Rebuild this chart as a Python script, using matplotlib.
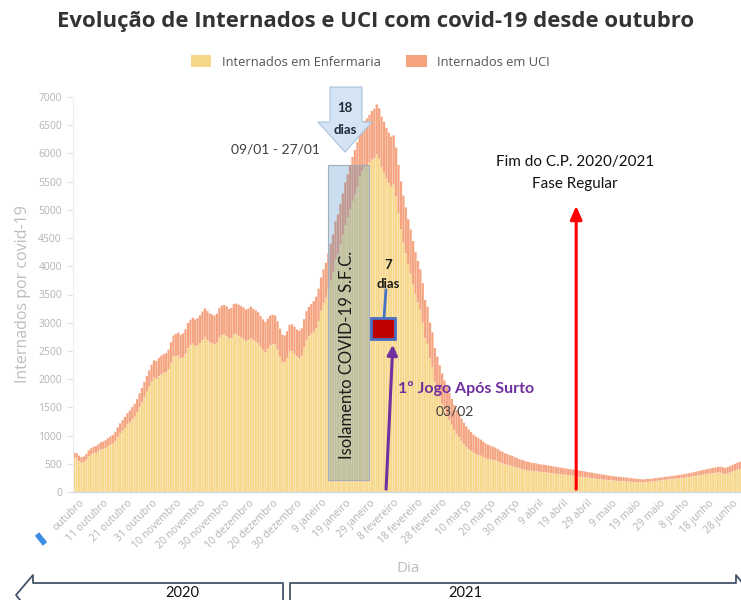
import numpy as np
import matplotlib
matplotlib.use("Agg")
import matplotlib.pyplot as plt
from matplotlib.patches import Polygon, Rectangle, Patch
from matplotlib.lines import Line2D

# --- dados (DGS, internados por dia, desde 29/09/2020) ---
internados = [
    700, 688, 645, 618, 632, 676, 738, 776, 802, 815,
    848, 884, 896, 918, 955, 988, 1012, 1066, 1147, 1218,
    1276, 1332, 1398, 1446, 1505, 1562, 1646, 1748, 1845, 1952,
    2056, 2158, 2255, 2336, 2322, 2378, 2415, 2445, 2462, 2525,
    2655, 2775, 2802, 2826, 2788, 2812, 2884, 2996, 3052, 3088,
    3058, 3082, 3134, 3198, 3255, 3208, 3168, 3146, 3128, 3162,
    3262, 3302, 3315, 3288, 3246, 3262, 3332, 3342, 3318, 3296,
    3268, 3236, 3252, 3284, 3248, 3222, 3188, 3118, 3062, 3018,
    3072, 3124, 3142, 3128, 3028, 2896, 2788, 2776, 2852, 2962,
    2972, 2928, 2882, 2858, 2902, 3064, 3204, 3282, 3334, 3384,
    3462, 3604, 3802, 3948, 4062, 4224, 4402, 4562, 4798, 4918,
    5104, 5292, 5484, 5628, 5782, 5938, 6062, 6202, 6398, 6504,
    6578, 6622, 6684, 6752, 6794, 6869, 6802, 6654, 6562, 6452,
    6368, 6298, 6322, 6104, 5798, 5504, 5252, 5046, 4834, 4652,
    4448, 4252, 4096, 3948, 3702, 3404, 3282, 3004, 2832, 2552,
    2402, 2248, 2102, 1978, 1862, 1758, 1652, 1542, 1452, 1378,
    1302, 1228, 1162, 1108, 1062, 1018, 982, 952, 928, 892,
    862, 838, 822, 802, 788, 762, 732, 712, 688, 672,
    654, 642, 618, 602, 582, 568, 556, 538, 532, 518,
    514, 506, 494, 490, 484, 478, 468, 462, 456, 446,
    440, 434, 424, 420, 412, 406, 398, 392, 386, 378,
    372, 366, 356, 350, 342, 336, 326, 320, 312, 306,
    298, 292, 286, 280, 276, 270, 266, 262, 256, 252,
    246, 242, 236, 232, 228, 224, 228, 232, 236, 240,
    246, 250, 256, 262, 268, 272, 278, 284, 290, 296,
    302, 310, 318, 326, 334, 342, 352, 362, 372, 382,
    392, 400, 410, 420, 430, 438, 446, 450, 438, 426,
    442, 460, 480, 500, 520, 537,
]
uci = [
    96, 97, 99, 101, 104, 108, 111, 115, 118, 122,
    125, 129, 134, 139, 144, 150, 157, 165, 172, 180,
    188, 196, 204, 212, 220, 228, 236, 245, 256, 268,
    280, 292, 300, 310, 318, 326, 330, 334, 340, 352,
    366, 380, 395, 410, 420, 430, 437, 445, 452, 462,
    472, 485, 495, 503, 505, 510, 514, 512, 515, 518,
    520, 522, 525, 528, 530, 535, 540, 548, 555, 560,
    562, 560, 558, 556, 555, 552, 550, 548, 545, 540,
    535, 530, 525, 515, 505, 495, 485, 478, 475, 476,
    478, 480, 482, 484, 490, 500, 510, 520, 530, 545,
    560, 575, 590, 605, 620, 638, 655, 667, 680, 702,
    720, 738, 755, 765, 772, 782, 790, 795, 802, 810,
    820, 835, 850, 865, 875, 890, 895, 900, 904, 900,
    895, 885, 875, 865, 855, 845, 830, 815, 800, 785,
    770, 752, 735, 718, 700, 682, 662, 640, 620, 600,
    580, 560, 540, 520, 500, 480, 462, 445, 428, 412,
    396, 380, 365, 350, 336, 322, 310, 298, 286, 275,
    264, 254, 245, 236, 228, 220, 212, 205, 198, 192,
    186, 180, 175, 170, 165, 161, 157, 153, 150, 147,
    144, 141, 138, 136, 134, 132, 130, 128, 126, 124,
    122, 120, 118, 116, 115, 114, 112, 111, 110, 108,
    106, 104, 102, 100, 98, 96, 94, 92, 90, 88,
    86, 84, 82, 80, 78, 76, 74, 72, 70, 68,
    66, 64, 62, 60, 58, 57, 56, 55, 54, 54,
    53, 53, 52, 52, 53, 54, 55, 56, 57, 58,
    60, 62, 64, 66, 68, 70, 72, 75, 78, 81,
    84, 87, 90, 93, 96, 99, 102, 105, 108, 111,
    114, 117, 120, 123, 126, 130,
]
dia_inicial = -2  # 29 setembro, relativo a 1 outubro
tick_labels = [
    "outubro", "11 outubro", "21 outubro", "31 outubro", "10 novembro",
    "20 novembro", "30 novembro", "10 dezembro", "20 dezembro", "30 dezembro",
    "9 janeiro", "19 janeiro", "29 janeiro", "8 fevereiro", "18 fevereiro",
    "28 fevereiro", "10 março", "20 março", "30 março", "9 abril",
    "19 abril", "29 abril", "9 maio", "19 maio", "29 maio",
    "8 junho", "18 junho", "28 junho",
]

AMARELO = "#f7d78a"
LARANJA = "#f5a27f"
CINZA = "#b3b3b3"

internados = np.array(internados)
uci = np.array(uci)
enfermaria = internados - uci
dias = np.arange(len(internados)) + dia_inicial

fig = plt.figure(figsize=(7.41, 6.0), dpi=100)
ax = fig.add_axes([73 / 741, 108 / 600, 668 / 741, 395 / 600])

# barras cheias com separadores brancos suaves (como no original)
ax.bar(dias, enfermaria, width=1.0, color=AMARELO, edgecolor=(1, 1, 1, 0.35),
       linewidth=0.3, snap=False)
ax.bar(dias, uci, bottom=enfermaria, width=1.0, color=LARANJA,
       edgecolor=(1, 1, 1, 0.35), linewidth=0.3, snap=False)

ax.set_xlim(dias[0] - 0.5, dias[-1] + 0.5)
ax.set_ylim(0, 7000)
ax.set_yticks(np.arange(0, 7001, 500))
ax.set_xticks(np.arange(len(tick_labels)) * 10)
ax.set_xticklabels(tick_labels, rotation=45, ha="right", rotation_mode="anchor",
                   fontsize=7.5, color=CINZA, family="Open Sans")
for lab in ax.get_yticklabels():
    lab.set_fontsize(7.5)
    lab.set_color(CINZA)
    lab.set_family("Open Sans")
ax.tick_params(axis="x", length=0, pad=4)
ax.tick_params(axis="y", length=4, color="#dde3ee", pad=4)
for s in ["top", "right"]:
    ax.spines[s].set_visible(False)
ax.spines["left"].set_color("#eeeeee")
ax.spines["bottom"].set_color("#ccd6eb")
ax.set_ylabel("Internados por covid-19", fontsize=11.5, color="#bdbdbd",
              family="Open Sans", labelpad=5)

# título e legenda
fig.text(376 / 741, 1 - 22 / 600, "Evolução de Internados e UCI com covid-19 desde outubro",
         ha="center", va="center", fontsize=15.9, fontweight="bold",
         color="#333333", family="Open Sans")
handles = [Patch(facecolor=AMARELO, edgecolor="none", label="Internados em Enfermaria"),
           Patch(facecolor=LARANJA, edgecolor="none", label="Internados em UCI")]
leg = fig.legend(handles=handles, loc="center", ncol=2, frameon=False,
                 bbox_to_anchor=(0.5, 1 - 62 / 600),
                 handlelength=1.6, handleheight=1.0, columnspacing=2.0,
                 prop={"family": "Open Sans", "size": 9.3})
for t in leg.get_texts():
    t.set_color("#555555")

# --- anotações ---
fnt = "Lato"
ax.add_patch(Rectangle((102.9, 213), 16.9, 5582, facecolor="#2f7ec0", alpha=0.25,
                       edgecolor="none", zorder=3))
ax.add_patch(Rectangle((102.9, 213), 16.9, 5582, facecolor="none",
                       edgecolor="#a3aeb8", linewidth=0.8, zorder=3))
ax.text(110.9, 2428, "Isolamento COVID-19 S.F.C.", rotation=90, ha="center", va="center",
        fontsize=12, color="#1a1a1a", family=fnt, zorder=4)

seta = Polygon([(103.7, 7177), (116.9, 7177), (116.9, 6557), (121.0, 6557),
                (109.9, 6025), (98.7, 6557), (103.7, 6557)], closed=True,
               facecolor="#d4e4f4", edgecolor="#a9c4de", linewidth=0.8,
               clip_on=False, zorder=5)
ax.add_patch(seta)
ax.text(109.9, 6800, "18", ha="center", va="center", fontsize=9.5, fontweight="bold",
        color="#1f2a36", family=fnt, zorder=6, clip_on=False)
ax.text(109.9, 6420, "dias", ha="center", va="center", fontsize=9.5, fontweight="bold",
        color="#1f2a36", family=fnt, zorder=6)
ax.text(81, 6061, "09/01 - 27/01", ha="center", va="center", fontsize=10,
        color="#404040", family=fnt)

ax.plot([126.0, 126.8], [3084, 3580], color="#4472c4", linewidth=2, zorder=5)
ax.add_patch(Rectangle((120.8, 2711), 9.6, 373, facecolor="#c00000",
                       edgecolor="#4a6fc0", linewidth=2, zorder=6))
ax.text(127.7, 4023, "7", ha="center", va="center", fontsize=9.5, fontweight="bold",
        color="#1a1a1a", family=fnt, zorder=6)
ax.text(127.7, 3686, "dias", ha="center", va="center", fontsize=9.5, fontweight="bold",
        color="#1a1a1a", family=fnt, zorder=6)

ax.annotate("", xy=(129.7, 2658), xytext=(126.8, 0),
            arrowprops=dict(arrowstyle="-|>,head_width=0.3,head_length=0.6",
                            color="#7030a0", linewidth=2.2), zorder=7)
ax.text(131.8, 1843, "1º Jogo Após Surto", ha="left", va="center", fontsize=11.5,
        fontweight="bold", color="#7030a0", family=fnt, zorder=7)
ax.text(155.3, 1435, "03/02", ha="center", va="center", fontsize=10,
        color="#404040", family=fnt, zorder=7)

ax.annotate("", xy=(205.4, 5121), xytext=(205.4, 0),
            arrowprops=dict(arrowstyle="-|>,head_width=0.35,head_length=0.8",
                            color="#ff0000", linewidth=2.2), zorder=7)
ax.text(205, 5848, "Fim do C.P. 2020/2021", ha="center", va="center", fontsize=11,
        color="#111111", family=fnt)
ax.text(205, 5458, "Fase Regular", ha="center", va="center", fontsize=11,
        color="#111111", family=fnt)

# eixo x: título e setas de ano (em píxeis da figura)
def fx(px):
    return px / 741

def fy(py):
    return 1 - py / 600

fig.text(fx(408), fy(568), "Dia", ha="center", va="center", fontsize=11,
         color="#bdbdbd", family="Open Sans")
cor_seta = "#44546a"
fig.add_artist(Line2D([fx(283), fx(283), fx(33), fx(33), fx(16), fx(24)],
                      [fy(602), fy(583), fy(583), fy(575), fy(595), fy(605)],
                      color=cor_seta, linewidth=1.3))
fig.add_artist(Line2D([fx(290), fx(290), fx(736), fx(736), fx(748)],
                      [fy(602), fy(583), fy(583), fy(575), fy(590)],
                      color=cor_seta, linewidth=1.3))
fig.text(fx(182), fy(593), "2020", ha="center", va="center", fontsize=10.5,
         color="#111111", family=fnt)
fig.text(fx(465), fy(593), "2021", ha="center", va="center", fontsize=10.5,
         color="#111111", family=fnt)
fig.add_artist(Line2D([fx(37), fx(45)], [fy(534), fy(544)], color="#3d8ee6",
                      linewidth=4, solid_capstyle="butt"))

fig.savefig("out.png", dpi=100, facecolor="white")
